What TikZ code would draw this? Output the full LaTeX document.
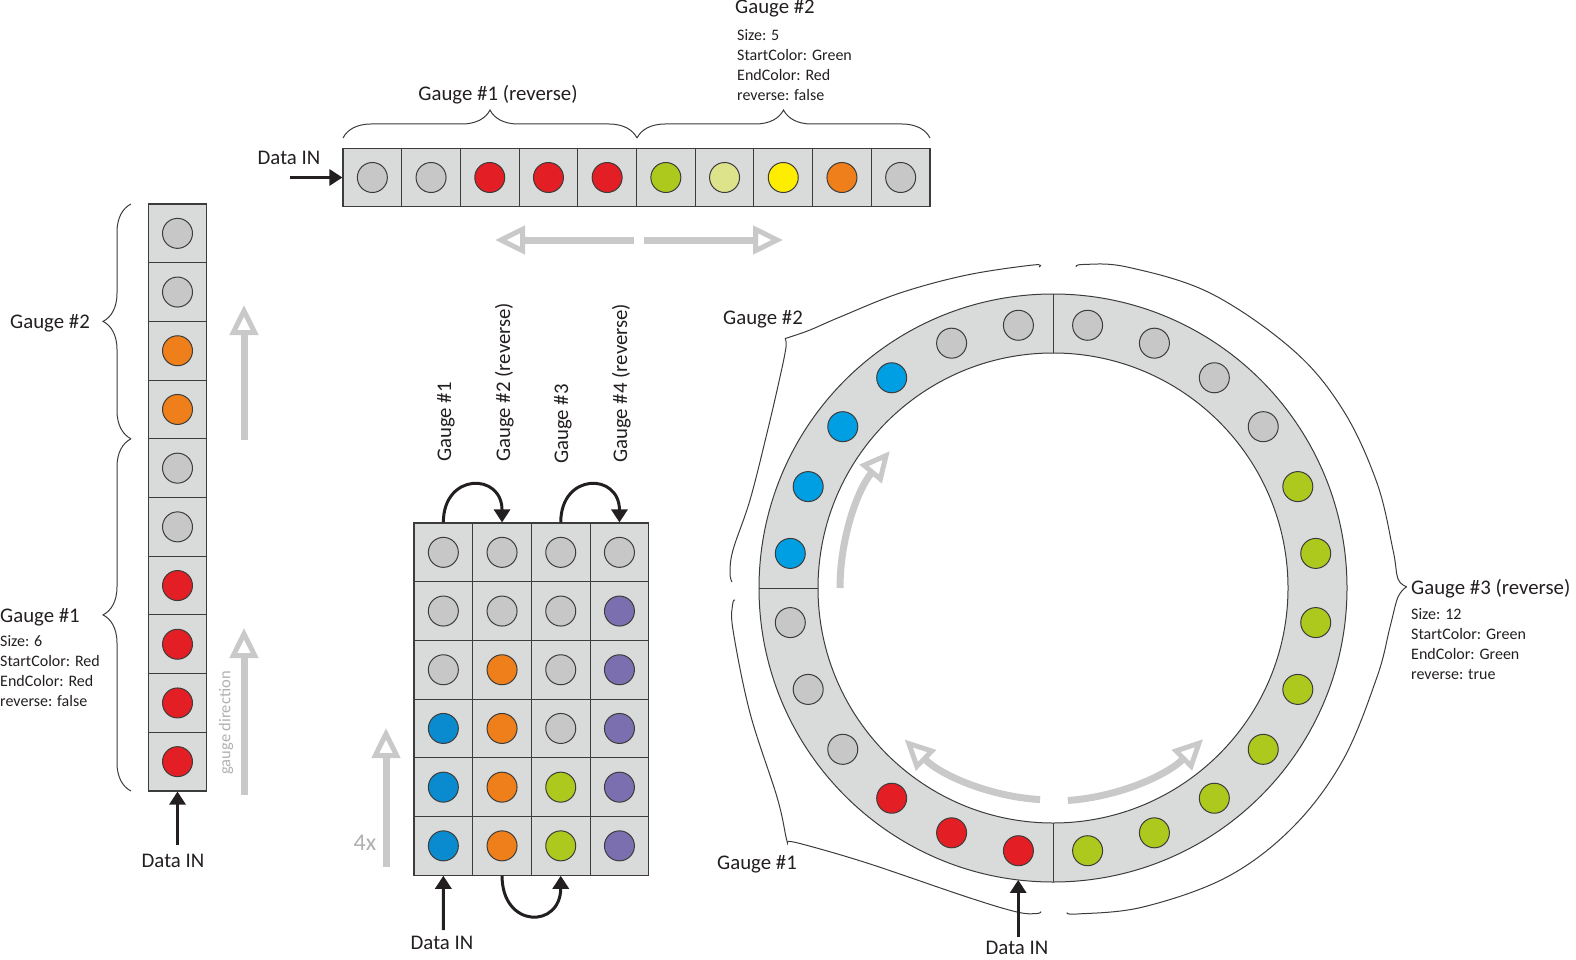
\documentclass[tikz,border=0pt]{standalone}
\usepackage{fontspec}
\setmainfont{Carlito}
\usetikzlibrary{arrows.meta, positioning, decorations.pathreplacing}

\definecolor{cellfill}{HTML}{D9DADA}
\definecolor{cellline}{HTML}{3C3C3B}
\definecolor{ledgray}{HTML}{C6C7C6}
\definecolor{ledred}{HTML}{E31E24}
\definecolor{ledorange}{HTML}{EE7F1B}
\definecolor{ledgreen}{HTML}{AEC91E}
\definecolor{ledlime}{HTML}{DCE38A}
\definecolor{ledyellow}{HTML}{FFED00}
\definecolor{ledblue}{HTML}{0A8BCF}
\definecolor{ledcyan}{HTML}{009FE3}
\definecolor{ledpurple}{HTML}{7C6FB0}
\definecolor{hintgray}{HTML}{C8C9C8}
\definecolor{textgray}{HTML}{B0B0B0}
\definecolor{inkblack}{HTML}{231F20}

\begin{document}
\begin{tikzpicture}[x=1pt, y=1pt,
    cell/.style={rectangle, draw=cellline, fill=cellfill, line width=1.1pt,
                 minimum size=58.7pt, inner sep=0pt},
    led/.style={circle, draw=cellline, line width=1pt, minimum size=30pt, inner sep=0pt},
    lbl/.style={font=\fontsize{20.8}{24}\selectfont, inner sep=0pt, text=inkblack},
    info/.style={font=\fontsize{16}{20}\selectfont, inner sep=0pt, align=left, text=inkblack},
    dataarr/.style={-{Triangle[length=13pt, width=16pt]}, line width=3pt, inkblack},
    hint/.style={-{Triangle[open, length=30pt, width=28pt, line width=5pt]}, line width=7pt, hintgray},
    gbrace/.style={decorate, decoration={brace, amplitude=28pt}, line width=1pt, cellline},
    curly/.style={line width=1pt, cellline}]

\useasboundingbox (0,0) rectangle (1576,-960);

% top bar
\foreach \c [count=\i] in {ledgray,ledgray,ledred,ledred,ledred,ledgreen,ledlime,ledyellow,ledorange,ledgray} {
  \node[cell] (t\i) at ({343+58.7*(\i-0.5)},-177.5) {};
  \node[led, fill=\c] (tl\i) at (t\i) {};
}
\draw[gbrace] (343,-138) -- (637,-138);
\draw[gbrace] (637,-138) -- (930,-138);
\node[lbl, anchor=base] (topg1) at (498,-101) {Gauge \#1 (reverse)};
\node[lbl, anchor=base west] (topg2) at (735,-14) {Gauge \#2};
\node[info, anchor=base west] (topinfo) at (737,-101) {Size: 5\\StartColor: Green\\EndColor: Red\\reverse: false};
\node[lbl, anchor=base] (topin) at (289,-165) {Data IN};
\coordinate (ttail) at (290,-177.5);
\draw[dataarr] (ttail) -- (t1.west);
\draw[hint] (634,-240) -- (495,-240);
\draw[hint] (644,-240) -- (783,-240);

% left column
\foreach \c [count=\i] in {ledgray,ledgray,ledorange,ledorange,ledgray,ledgray,ledred,ledred,ledred,ledred} {
  \node[cell] (l\i) at (177.5,{-204-58.7*(\i-0.5)}) {};
  \node[led, fill=\c] (ll\i) at (l\i) {};
}
\draw[gbrace] (131,-791) -- (131,-438.8);
\draw[gbrace] (131,-438.8) -- (131,-204);
\node[lbl, anchor=base east] (leftg2) at (90,-328) {Gauge \#2};
\node[lbl, anchor=base west] (leftg1) at (0,-622) {Gauge \#1};
\node[info, anchor=base west] (leftinfo) at (0,-706) {Size: 6\\StartColor: Red\\EndColor: Red\\reverse: false};
\node[lbl, anchor=base] (leftin) at (173,-867) {Data IN};
\coordinate (ltail) at (177.5,-845);
\draw[dataarr] (ltail) -- (l10.south);
\draw[hint] (244,-440) -- (244,-305);
\draw[hint] (244,-795) -- (244,-628);
\node[font=\fontsize{16.5}{18}\selectfont, text=textgray, rotate=90, inner sep=0pt] (gdir) at (226,-723) {gauge direction};

% matrix of four gauges
\foreach \row [count=\r] in {{ledgray,ledgray,ledgray,ledgray},
                              {ledgray,ledgray,ledgray,ledpurple},
                              {ledgray,ledorange,ledgray,ledpurple},
                              {ledblue,ledorange,ledgray,ledpurple},
                              {ledblue,ledorange,ledgreen,ledpurple},
                              {ledblue,ledorange,ledgreen,ledpurple}} {
  \foreach \c [count=\k] in \row {
    \node[cell] (m-\r-\k) at ({414+58.7*(\k-0.5)},{-523-58.7*(\r-0.5)}) {};
    \node[led, fill=\c] (ml-\r-\k) at (m-\r-\k) {};
  }
}
\node[lbl, rotate=90, anchor=base west] (mg1) at (451,-462) {Gauge \#1};
\node[lbl, rotate=90, anchor=base west] (mg2) at (510,-462) {Gauge \#2 (reverse)};
\node[lbl, rotate=90, anchor=base west] (mg3) at (568,-464) {Gauge \#3};
\node[lbl, rotate=90, anchor=base west] (mg4) at (627,-463) {Gauge \#4 (reverse)};
\draw[dataarr] (m-1-1.north) .. controls +(0,50) and +(0,50) .. (m-1-2.north);
\draw[dataarr] (m-1-3.north) .. controls +(0,50) and +(0,50) .. (m-1-4.north);
\draw[dataarr] (m-6-2.south) .. controls +(0,-53) and +(0,-53) .. (m-6-3.south);
\node[lbl, anchor=base] (midin) at (442,-949) {Data IN};
\coordinate (mtail) at (443.3,-930);
\draw[dataarr] (mtail) -- (m-6-1.south);
\draw[hint] (386,-867) -- (386,-728);
\node[font=\fontsize{24}{28}\selectfont, text=textgray, inner sep=0pt] (times) at (365,-843) {4x};

% ring
\coordinate (ring) at (1053,-588);
\fill[cellfill, even odd rule] (ring) circle[radius=294] (ring) circle[radius=235];
\draw[cellline, line width=1pt] (ring) circle[radius=294] (ring) circle[radius=235];
\foreach \a in {90,180,270}
  \draw[cellline, line width=1pt] ([shift={(\a:235)}]ring) -- ([shift={(\a:294)}]ring);
\foreach \c [count=\i] in {ledgray,ledgray,ledcyan,ledcyan,ledcyan,ledcyan,
                           ledgray,ledgray,ledgray,ledred,ledred,ledred,
                           ledgreen,ledgreen,ledgreen,ledgreen,ledgreen,ledgreen,ledgreen,ledgreen,
                           ledgray,ledgray,ledgray,ledgray}
  \node[led, fill=\c] (r\i) at ([shift={({97.5+15*(\i-1)}:265)}]ring) {};
\draw[hint] ([shift={(180:213)}]ring) arc[start angle=180, end angle=140, radius=213];
\draw[hint] ([shift={(266.5:212)}]ring) arc[start angle=266.5, end angle=225.6, radius=212];
\draw[hint] ([shift={(274:213)}]ring) arc[start angle=274, end angle=314.8, radius=213];

% curved braces round the ring
\draw[curly] plot[smooth, tension=0.6] coordinates {(1039,-267) (1033,-265) (967,-275) (900,-293) (840,-317) (810,-330) (790,-337) (785,-338.5)};
\draw[curly] plot[smooth, tension=0.6] coordinates {(785,-338.5) (786,-347) (780,-377) (767,-433) (750,-500) (733,-550) (730,-573) (732,-582)};
\draw[curly] plot[smooth, tension=0.6] coordinates {(735,-600) (732.7,-604) (733,-630) (750,-713) (777,-797) (786,-837) (787.3,-842)};
\draw[curly] plot[smooth, tension=0.6] coordinates {(787.3,-842) (800,-843.5) (867,-863) (967,-897) (1017,-912) (1037,-913.5) (1041,-911.5)};
\draw[curly] plot[smooth, tension=0.6] coordinates {(1076,-267) (1083,-264.5) (1127,-267) (1210,-293) (1293,-350) (1343,-410) (1377,-483) (1393,-550) (1398,-579) (1406.7,-586.7)};
\draw[curly] plot[smooth, tension=0.6] coordinates {(1406.7,-586.7) (1398,-597) (1390,-627) (1377,-677) (1343,-760) (1293,-827) (1227,-877) (1143,-907) (1077,-914) (1067,-912.5)};
\node[lbl, anchor=base] (ringg2) at (763,-324) {Gauge \#2};
\node[lbl, anchor=base] (ringg1) at (757,-869) {Gauge \#1};
\node[lbl, anchor=base west] (ringg3) at (1411,-594) {Gauge \#3 (reverse)};
\node[info, anchor=base west] (ringinfo) at (1411,-679) {Size: 12\\StartColor: Green\\EndColor: Green\\reverse: true};
\node[lbl, anchor=base] (ringin) at (1017,-954) {Data IN};
\coordinate (ringfoot) at ([shift={(263.2:294)}]ring);
\coordinate (ringtail) at (ringfoot |- 0,-937);
\draw[dataarr] (ringtail) -- (ringfoot);
\end{tikzpicture}
\end{document}
